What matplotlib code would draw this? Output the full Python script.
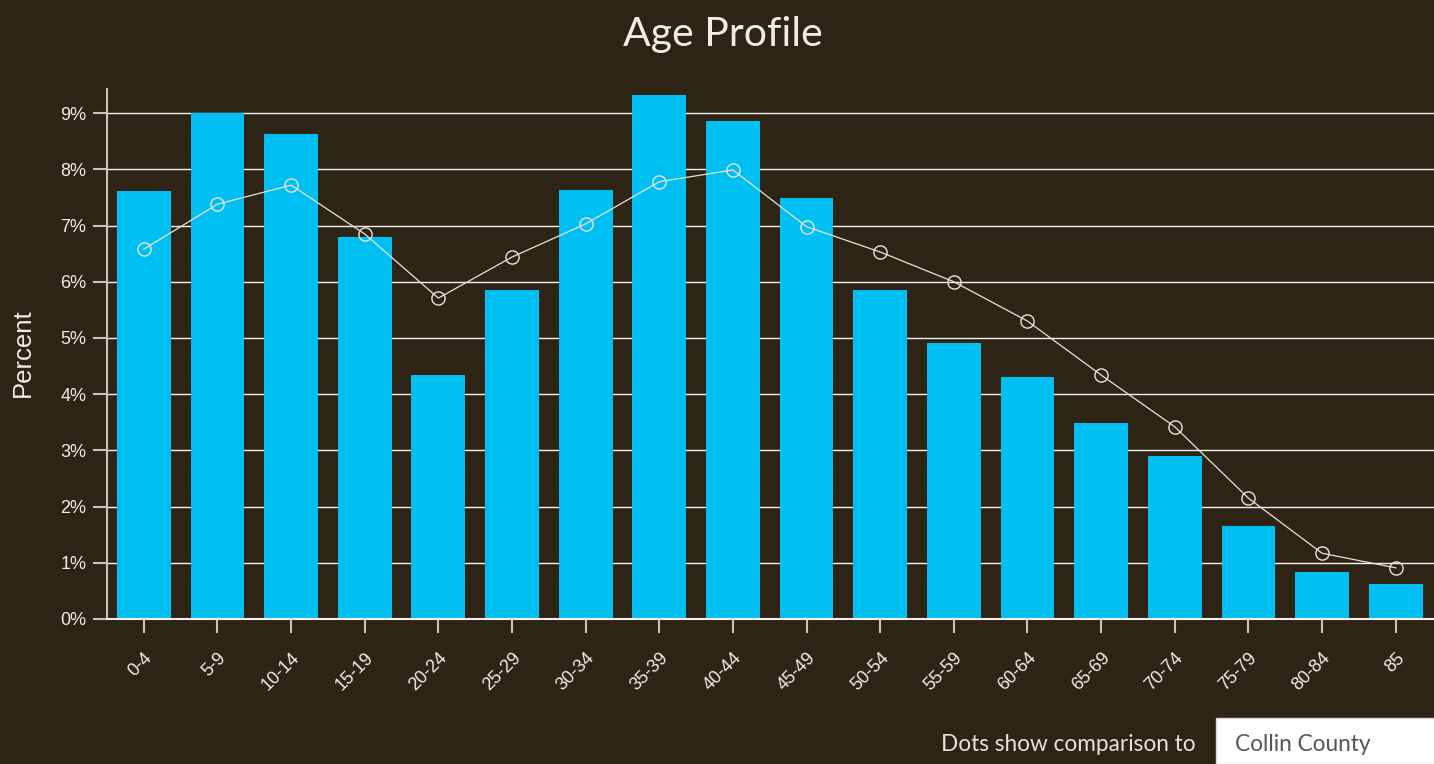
import matplotlib
matplotlib.use("Agg")
import matplotlib.pyplot as plt
from matplotlib.patches import Rectangle

# age groups and shares (percent)
age_groups = ["0-4", "5-9", "10-14", "15-19", "20-24", "25-29", "30-34", "35-39",
              "40-44", "45-49", "50-54", "55-59", "60-64", "65-69", "70-74",
              "75-79", "80-84", "85"]
area_pct = [7.62, 9.0, 8.63, 6.80, 4.34, 5.85, 7.63, 9.32, 8.86, 7.49,
            5.85, 4.91, 4.31, 3.49, 2.90, 1.65, 0.84, 0.62]
county_pct = [6.58, 7.38, 7.72, 6.85, 5.71, 6.44, 7.03, 7.78, 7.99, 6.98,
              6.53, 6.00, 5.30, 4.34, 3.42, 2.15, 1.17, 0.91]
y_ticks = [0, 1, 2, 3, 4, 5, 6, 7, 8, 9]

bg = "#2e2415"
bar_color = "#00bff3"
fg = "#f0ede6"

fig = plt.figure(figsize=(14.34, 7.64), dpi=100, facecolor=bg)
ax = fig.add_axes([0.0746, 0.1898, 0.9254, 0.6937], facecolor=bg)

x = list(range(len(age_groups)))
ax.bar(x, area_pct, width=0.73, color=bar_color, zorder=2)
ax.plot(x, county_pct, color="#e8e4da", lw=0.9, marker="o", ms=9.5,
        mfc="none", mec="#e8e4da", mew=1.0, zorder=3)

ax.set_xlim(-0.5, 17.52)
ax.set_ylim(0, 9.43)
ax.set_yticks(y_ticks)
ax.set_yticklabels([f"{v}%" for v in y_ticks])
ax.set_xticks(x)
ax.set_xticklabels(age_groups, rotation=45, ha="right", rotation_mode="anchor")

ax.grid(axis="y", color="#f4f2ec", lw=1.0, zorder=1)
ax.set_axisbelow(True)

for s in ["top", "right"]:
    ax.spines[s].set_visible(False)
ax.spines["left"].set_color("#c9c4b8")
ax.spines["left"].set_linewidth(1.5)
ax.spines["bottom"].set_color("#f4f2ec")
ax.spines["bottom"].set_linewidth(1.5)

ax.tick_params(axis="both", colors="#c9c4b8", length=10, width=1.5,
               labelcolor=fg, labelsize=13, pad=5)
ax.tick_params(axis="x", pad=12)
for lbl in ax.get_xticklabels() + ax.get_yticklabels():
    lbl.set_fontfamily("Liberation Sans")

fig.text(0.016, 0.539, "Percent", rotation=90, color=fg, fontsize=18.5,
         family="Liberation Sans", ha="center", va="center")
fig.text(0.504, 0.955, "Age Profile", color=fg, fontsize=29.5, family="Lato",
         ha="center", va="center")

# comparison selector at the bottom right
fig.text(0.834, 0.025, "Dots show comparison to", color="#e6e2d8", fontsize=16.3,
         family="Lato", ha="right", va="center")
fig.patches.append(Rectangle((0.848, 0.0), 0.152, 0.06, transform=fig.transFigure,
                             facecolor="white", edgecolor="#d8d8d8", lw=1))
fig.text(0.861, 0.025, "Collin County", color="#555555", fontsize=16.3,
         family="Lato", ha="left", va="center")

fig.savefig("out.png", dpi=100, facecolor=bg)
